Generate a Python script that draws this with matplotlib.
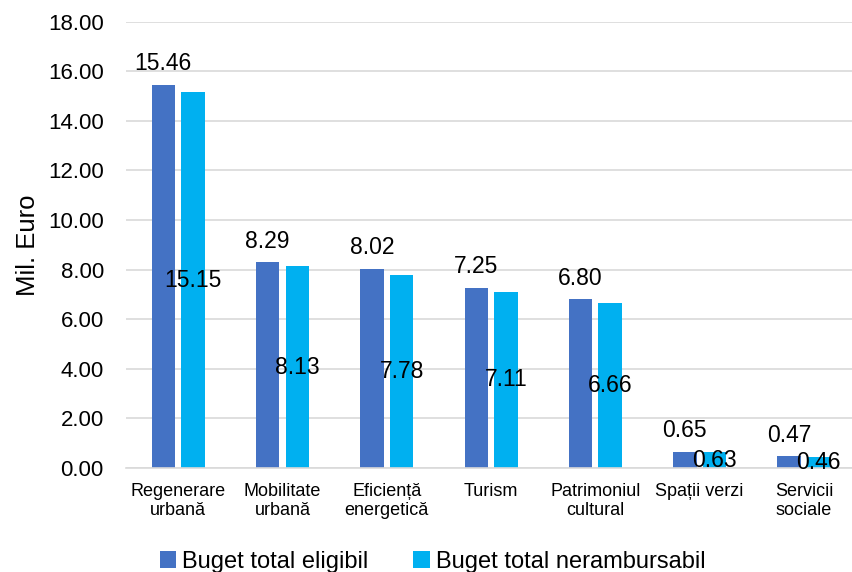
import numpy as np
import matplotlib
matplotlib.use("Agg")
from matplotlib import pyplot as plt

plt.rcParams["font.family"] = ["Liberation Sans", "DejaVu Sans"]

# data
categories = ["Regenerare\nurbană", "Mobilitate\nurbană", "Eficiență\nenergetică", "Turism",
              "Patrimoniul\ncultural", "Spații verzi", "Servicii\nsociale"]
eligibil = [15.46, 8.29, 8.02, 7.25, 6.80, 0.65, 0.47]
nerambursabil = [15.15, 8.13, 7.78, 7.11, 6.66, 0.63, 0.46]
series_names = ["Buget total eligibil", "Buget total nerambursabil"]
yticks = [0, 2, 4, 6, 8, 10, 12, 14, 16, 18]

fig = plt.figure(figsize=(8.53, 5.72), dpi=100)
ax = fig.add_axes([126 / 853, 1 - 468 / 572, 1 - 126 / 853, (468 - 21.5) / 572])

x = np.arange(len(categories))
w = 0.225
off = 0.142
b1 = ax.bar(x - off, eligibil, w, color="#4472C4", label=series_names[0])
b2 = ax.bar(x + off, nerambursabil, w, color="#00B0F0", label=series_names[1])

ax.bar_label(b1, labels=[f"{v:.2f}" for v in eligibil], padding=7, fontsize=16.5)
ax.bar_label(b2, labels=[f"{v:.2f}" for v in nerambursabil], label_type="center", fontsize=16.5)

ax.set_xlim(-0.5, 6.47)
ax.set_ylim(0, 18)
ax.set_yticks(yticks)
ax.set_yticklabels([f"{v:.2f}" for v in yticks], fontsize=16)
ax.set_xticks(x)
ax.set_xticklabels(categories, fontsize=13, linespacing=1.15)
ax.tick_params(axis="x", length=0, pad=11)
ax.tick_params(axis="y", length=0, pad=16)
ax.set_ylabel("Mil. Euro", fontsize=18.5, labelpad=6)

ax.grid(axis="y", color="#D9D9D9", linewidth=1.2)
ax.set_axisbelow(True)
for s in ["top", "right", "left"]:
    ax.spines[s].set_visible(False)
ax.spines["bottom"].set_color("#D9D9D9")
ax.spines["bottom"].set_linewidth(1.2)

fig.legend(loc="center", bbox_to_anchor=(0.507, 1 - 562 / 572), ncol=2, frameon=False,
           fontsize=17, handlelength=0.7, handleheight=0.7, handletextpad=0.25,
           columnspacing=1.9)

fig.savefig("out.png", dpi=100)
